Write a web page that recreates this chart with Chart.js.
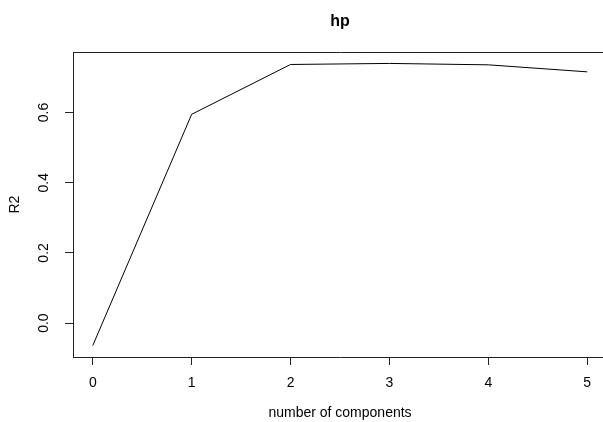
<!DOCTYPE html>
<html>
<head>
<meta charset="utf-8">
<script src="https://cdn.jsdelivr.net/npm/chart.js@4.4.0/dist/chart.umd.min.js"></script>
<style>
  html, body { margin: 0; padding: 0; background: #fff; }
  #marco { width: 603px; height: 422px; overflow: hidden; }
</style>
</head>
<body>
<div id="marco"><canvas id="grafico-r2" width="620" height="422"></canvas></div>
<script>
// Datos
const componentes = [0, 1, 2, 3, 4, 5];
const valoresR2 = [-0.064, 0.595, 0.737, 0.740, 0.736, 0.716];
const ticksX = [0, 1, 2, 3, 4, 5];
const ticksY = [0, 0.2, 0.4, 0.6];

const fuente = "'Liberation Sans', Arial, sans-serif";
const negro = '#000';

const canvas = document.getElementById('grafico-r2');

// Ejes al estilo de R: marcas hacia afuera, sin rejilla
const ejeBase = {
  type: 'linear',
  grid: {
    display: true,
    drawOnChartArea: false,
    drawTicks: true,
    tickLength: 8,
    tickColor: '#222'
  },
  border: { display: true, color: '#222', width: 1 }
};

new Chart(canvas, {
  type: 'line',
  data: {
    datasets: [{
      label: 'R2',
      data: componentes.map((c, i) => ({ x: c, y: valoresR2[i] })),
      borderColor: negro,
      borderWidth: 1,
      pointRadius: 0,
      tension: 0,
      fill: false
    }]
  },
  options: {
    responsive: false,
    animation: false,
    layout: { padding: { left: 0, right: 13, top: 0, bottom: 0 } },
    plugins: {
      legend: { display: false },
      tooltip: { enabled: false },
      title: {
        display: true,
        text: 'hp',
        color: negro,
        fullSize: false,
        font: { family: fuente, size: 16, weight: 'bold' },
        padding: { top: 12, bottom: 21 }
      }
    },
    scales: {
      x: {
        ...ejeBase,
        position: 'bottom',
        min: -0.2,
        max: 5.2,
        afterBuildTicks: s => { s.ticks = ticksX.map(v => ({ value: v })); },
        afterFit: s => { s.height = 65; },
        ticks: {
          color: negro,
          font: { family: fuente, size: 14 },
          padding: 10,
          maxRotation: 0,
          callback: v => String(v)
        },
        title: {
          display: true,
          text: 'number of components',
          color: negro,
          font: { family: fuente, size: 14 },
          padding: { top: 0, bottom: 0 }
        }
      },
      // eje superior solo para cerrar la caja por arriba
      x2: {
        type: 'linear',
        position: 'top',
        min: -0.2,
        max: 5.2,
        grid: { display: false },
        ticks: { display: false },
        border: { display: true, color: '#222', width: 1 },
        afterFit: s => { s.height = 0; }
      },
      y: {
        ...ejeBase,
        position: 'left',
        min: -0.0967,
        max: 0.772,
        afterBuildTicks: s => { s.ticks = ticksY.map(v => ({ value: v })); },
        afterFit: s => { s.width = 73; },
        ticks: {
          color: negro,
          font: { family: fuente, size: 14 },
          minRotation: 90,
          maxRotation: 90,
          crossAlign: 'center',
          padding: 11,
          callback: v => v.toFixed(1)
        },
        title: {
          display: true,
          text: 'R2',
          color: negro,
          font: { family: fuente, size: 14 },
          padding: { top: 7, bottom: 0 }
        }
      }
    }
  }
});
</script>
</body>
</html>
